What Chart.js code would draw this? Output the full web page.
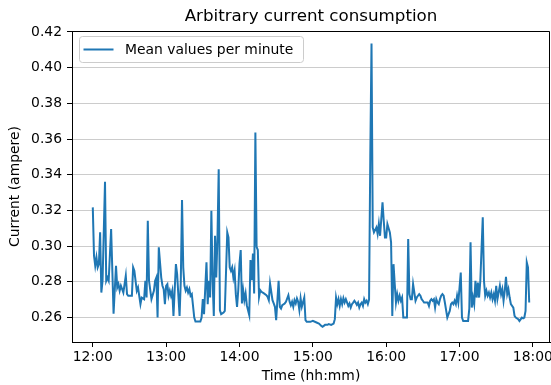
<!DOCTYPE html>
<html lang="en">
<head>
<meta charset="UTF-8">
<title>Arbitrary current consumption</title>
<script src="https://cdn.jsdelivr.net/npm/chart.js"></script>
<style>
  html, body { margin: 0; padding: 0; background: #fff; }
</style>
</head>
<body>
<canvas id="myChart" width="551" height="385"></canvas>
<script>
// readings (hh:mm) and mean current per minute
const times = [
  '12:00','12:01','12:02','12:03','12:04','12:05','12:06','12:07','12:08','12:10','12:11','12:12','12:13','12:15','12:16','12:17','12:19','12:20','12:21','12:22','12:23','12:25','12:27','12:28','12:29','12:32','12:33','12:34','12:36','12:37','12:39','12:40','12:42','12:43','12:44','12:45','12:46','12:48','12:50','12:51','12:52','12:53','12:54','12:56','12:57','12:58','12:59',
  '13:00','13:01','13:02','13:03','13:04','13:05','13:06','13:08','13:09','13:11','13:12','13:13','13:14','13:15','13:16','13:17','13:18','13:19','13:20','13:21','13:23','13:24','13:28','13:29','13:30','13:31','13:33','13:34','13:35','13:36','13:37','13:38','13:39','13:40','13:41','13:42','13:43','13:44','13:45','13:47','13:48','13:50','13:51','13:52','13:53','13:54','13:55','13:56','13:57','13:58','13:59',
  '14:00','14:01','14:02','14:03','14:04','14:05','14:06','14:08','14:09','14:10','14:11','14:12','14:13','14:14','14:15','14:16','14:17','14:18','14:20','14:22','14:23','14:24','14:25','14:27','14:28','14:29','14:30','14:32','14:33','14:34','14:35','14:37','14:38','14:40','14:41','14:42','14:43','14:44','14:45','14:46','14:47','14:48','14:49','14:50','14:51','14:53','14:54','14:55','14:58',
  '15:00','15:03','15:05','15:07','15:08','15:10','15:12','15:13','15:15','15:17','15:18','15:19','15:20','15:21','15:22','15:23','15:24','15:25','15:26','15:27','15:29','15:30','15:31','15:32','15:33','15:34','15:35','15:36','15:37','15:38','15:39','15:40','15:41','15:42','15:43','15:44','15:45','15:46','15:47','15:48','15:49','15:50','15:52','15:53','15:54','15:55','15:56','15:57','15:58','15:59',
  '16:00','16:01','16:03','16:04','16:05','16:06','16:07','16:08','16:09','16:10','16:11','16:12','16:13','16:14','16:17','16:18','16:19','16:20','16:21','16:22','16:24','16:25','16:26','16:27','16:28','16:29','16:30','16:31','16:32','16:34','16:35','16:36','16:37','16:38','16:39','16:40','16:41','16:42','16:43','16:44','16:45','16:46','16:47','16:48','16:50','16:51','16:52','16:53','16:54','16:55','16:56','16:57','16:58','16:59',
  '17:01','17:02','17:03','17:07','17:08','17:09','17:10','17:11','17:12','17:13','17:14','17:15','17:16','17:17','17:19','17:20','17:21','17:22','17:23','17:24','17:25','17:26','17:27','17:28','17:29','17:30','17:31','17:33','17:34','17:35','17:36','17:37','17:38','17:39','17:40','17:41','17:42','17:44','17:45','17:46','17:48','17:49','17:51','17:52','17:53','17:54','17:55','17:56','17:57'
];
const current = [
  0.3217,0.2946,0.2890,0.2937,0.2881,0.2900,0.3077,0.2740,0.2806,0.3361,0.2806,0.2824,0.2806,0.3096,0.2862,0.2622,0.2890,0.2768,0.2787,0.2750,0.2778,0.2740,0.2834,0.2731,0.2722,0.2722,0.2881,0.2862,0.2750,0.2768,0.2675,0.2712,0.2703,0.2806,0.2712,0.3142,0.2806,0.2703,0.2750,0.2806,0.2824,0.2600,0.2993,0.2824,0.2778,0.2759,0.2675,
  0.2778,0.2787,0.2722,0.2750,0.2722,0.2750,0.2609,0.2899,0.2843,0.2609,0.2806,0.3258,0.2881,0.2778,0.2750,0.2768,0.2740,0.2759,0.2722,0.2731,0.2600,0.2578,0.2578,0.2600,0.2703,0.2619,0.2909,0.2675,0.2806,0.2712,0.3198,0.2806,0.2609,0.3058,0.2824,0.3049,0.3430,0.2640,0.2619,0.2628,0.2637,0.3077,0.3049,0.2881,0.2862,0.2881,0.2824,0.2862,0.2731,0.2660,0.2753,
  0.2903,0.2978,0.2679,0.2753,0.2697,0.2735,0.2669,0.2613,0.2922,0.2809,0.2959,0.2735,0.3636,0.2996,0.2978,0.2716,0.2753,0.2744,0.2735,0.2725,0.2716,0.2697,0.2791,0.2697,0.2679,0.2660,0.2585,0.2806,0.2660,0.2650,0.2669,0.2679,0.2688,0.2725,0.2688,0.2669,0.2688,0.2660,0.2697,0.2679,0.2707,0.2688,0.2641,0.2707,0.2660,0.2712,0.2585,0.2576,0.2576,
  0.2581,0.2572,0.2566,0.2553,0.2548,0.2559,0.2559,0.2563,0.2559,0.2566,0.2591,0.2712,0.2675,0.2703,0.2665,0.2703,0.2675,0.2708,0.2684,0.2703,0.2665,0.2679,0.2656,0.2675,0.2684,0.2694,0.2684,0.2671,0.2684,0.2656,0.2675,0.2684,0.2665,0.2703,0.2684,0.2694,0.2675,0.2700,0.3500,0.4135,0.3105,0.3077,0.3105,0.3068,0.3124,0.3058,0.3152,0.3245,0.3142,0.3049,
  0.3049,0.3124,0.3077,0.3021,0.2609,0.2899,0.2787,0.2684,0.2731,0.2694,0.2722,0.2694,0.2712,0.2600,0.2600,0.3040,0.2731,0.2703,0.2703,0.2787,0.2694,0.2712,0.2722,0.2731,0.2722,0.2703,0.2694,0.2684,0.2684,0.2684,0.2665,0.2694,0.2703,0.2694,0.2703,0.2656,0.2703,0.2684,0.2675,0.2703,0.2722,0.2731,0.2722,0.2684,0.2600,0.2619,0.2637,0.2675,0.2684,0.2675,0.2694,0.2675,0.2722,0.2684,
  0.2852,0.2600,0.2581,0.2581,0.2650,0.3021,0.2656,0.2712,0.2675,0.2806,0.2712,0.2796,0.2712,0.2806,0.3161,0.2806,0.2722,0.2750,0.2722,0.2740,0.2712,0.2740,0.2703,0.2731,0.2694,0.2778,0.2703,0.2778,0.2731,0.2759,0.2694,0.2750,0.2828,0.2731,0.2759,0.2712,0.2675,0.2656,0.2609,0.2600,0.2591,0.2581,0.2600,0.2596,0.2600,0.2637,0.2909,0.2881,0.2684
];
const xTickLabels = ['12:00', '13:00', '14:00', '15:00', '16:00', '17:00', '18:00'];
const yTickValues = [0.26, 0.28, 0.30, 0.32, 0.34, 0.36, 0.38, 0.40, 0.42];

// minutes after 12:00 <-> hh:mm
function toMinutes(t) {
  const [h, m] = t.split(':').map(Number);
  return (h - 12) * 60 + m;
}
function toLabel(min) {
  const h = 12 + Math.floor(min / 60);
  const m = Math.round(min % 60);
  return h + ':' + String(m).padStart(2, '0');
}

const FONT = 'DejaVu Sans';
const BLUE = '#1f77b4';
const points = times.map((t, i) => ({ x: toMinutes(t), y: current[i] }));

// title, top/right spines and the boxed legend, matplotlib style
const decorations = {
  id: 'decorations',
  afterDraw(chart) {
    const ctx = chart.ctx;
    const a = chart.chartArea;
    ctx.save();
    ctx.strokeStyle = '#000';
    ctx.lineWidth = 1;
    ctx.beginPath();
    ctx.moveTo(Math.round(a.left) - 0.5, Math.round(a.top) + 0.5);
    ctx.lineTo(Math.round(a.right) - 0.5, Math.round(a.top) + 0.5);
    ctx.lineTo(Math.round(a.right) - 0.5, Math.round(a.bottom));
    ctx.stroke();

    ctx.fillStyle = '#000';
    ctx.font = '16.7px "' + FONT + '"';
    ctx.textAlign = 'center';
    ctx.textBaseline = 'middle';
    ctx.fillText('Arbitrary current consumption', (a.left + a.right) / 2, 17);

    // legend
    const bx = a.left + 7.5, by = a.top + 5.5, bw = 224, bh = 26, r = 3;
    ctx.beginPath();
    ctx.moveTo(bx + r, by);
    ctx.arcTo(bx + bw, by, bx + bw, by + bh, r);
    ctx.arcTo(bx + bw, by + bh, bx, by + bh, r);
    ctx.arcTo(bx, by + bh, bx, by, r);
    ctx.arcTo(bx, by, bx + bw, by, r);
    ctx.closePath();
    ctx.fillStyle = 'rgba(255,255,255,0.8)';
    ctx.fill();
    ctx.strokeStyle = '#cccccc';
    ctx.stroke();

    const ly = by + bh / 2;
    ctx.strokeStyle = BLUE;
    ctx.lineWidth = 2;
    ctx.beginPath();
    ctx.moveTo(bx + 4, ly);
    ctx.lineTo(bx + 34, ly);
    ctx.stroke();

    ctx.fillStyle = '#000';
    ctx.font = '13.9px "' + FONT + '"';
    ctx.textAlign = 'left';
    ctx.fillText(chart.data.datasets[0].label, bx + 45.5, ly + 0.5);
    ctx.restore();
  }
};

const ctx = document.getElementById('myChart').getContext('2d');
new Chart(ctx, {
  type: 'line',
  data: {
    datasets: [{
      label: 'Mean values per minute',
      data: points,
      borderColor: BLUE,
      borderWidth: 2,
      pointRadius: 0,
      tension: 0,
      fill: false
    }]
  },
  options: {
    responsive: false,
    animation: false,
    devicePixelRatio: 1,
    layout: { padding: { top: 31, right: 1, left: 0, bottom: 0 } },
    plugins: {
      legend: { display: false },
      tooltip: { enabled: false },
      title: { display: false }
    },
    scales: {
      x: {
        type: 'linear',
        min: -17,
        max: 374,
        afterBuildTicks: s => { s.ticks = xTickLabels.map(t => ({ value: toMinutes(t) })); },
        afterFit: s => { s.height = 43; s.paddingLeft = 0; s.paddingRight = 0; },
        ticks: {
          callback: v => toLabel(v),
          color: '#000',
          font: { family: FONT, size: 13.9 },
          padding: 2,
          maxRotation: 0,
          autoSkip: false
        },
        grid: { drawOnChartArea: false, drawTicks: true, tickLength: 5, tickColor: '#000' },
        border: { color: '#000', width: 1 },
        title: {
          display: true,
          text: 'Time (hh:mm)',
          color: '#000',
          font: { family: FONT, size: 13.9 },
          padding: { top: 0, bottom: 0 }
        }
      },
      y: {
        min: 0.2463,
        max: 0.4205,
        afterBuildTicks: s => { s.ticks = yTickValues.map(v => ({ value: v })); },
        afterFit: s => { s.width = 72; s.paddingTop = 0; s.paddingBottom = 0; },
        ticks: {
          callback: v => v.toFixed(2),
          color: '#000',
          font: { family: FONT, size: 13.9 },
          padding: 5
        },
        grid: { color: '#cccccc', lineWidth: 1, drawTicks: true, tickLength: 5, tickColor: '#000' },
        border: { color: '#000', width: 1 },
        title: {
          display: true,
          text: 'Current (ampere)',
          color: '#000',
          font: { family: FONT, size: 13.9 },
          padding: { top: 7, bottom: 0 }
        }
      }
    }
  },
  plugins: [decorations]
});
</script>
</body>
</html>
